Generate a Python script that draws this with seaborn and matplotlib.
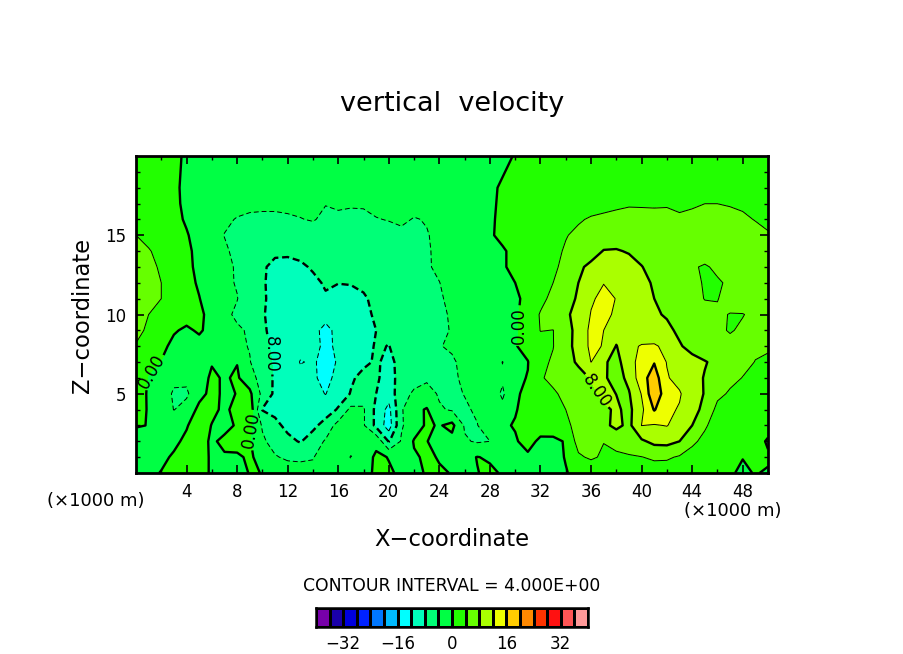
import matplotlib
matplotlib.use("Agg")
import matplotlib.pyplot as plt
from matplotlib.colors import BoundaryNorm, ListedColormap
import numpy as np
import seaborn as sns

# grid of the field, x in km every 1, z in km
x_km = list(range(51))
z_km = [0, 1, 2, 3, 4, 5, 6, 7, 8, 9, 10, 11, 12, 13, 14, 15, 16, 17, 18, 20]

# vertical velocity, one list per height
w_z00 = [-1, -0.5, 0.1, 0.7, 1, 0.6, -0.2, -0.4, -1.5, 0.2,
         -0.05, -1, -2, -2.6, -3, -2, -1.2, -1, -0.8, 0.4,
         0.3, -0.4, -0.6, 0.2, 0.3, -0.1, -0.6, -0.1, 0.6, -0.3,
         -0.6, -0.7, -0.8, -0.7, -0.1, 0.5, 1, 1.4, 1.6, 1.8,
         2, 2, 2, 1.8, 1.6, 1.2, 0.8, 0.2, -0.3, 0.1, -0.2]
w_z01 = [-1.4, -1, -0.5, 0.3, 1, 0.6, -0.2, -0.3, -0.4, 0.4,
         -1, -3.7, -4.6, -4.6, -4.2, -2.2, -1.6, -4.2, -1.5, 0.5,
         -0.1, -1.2, -0.4, 0.5, -0.2, -0.8, -0.9, 0.1, -0.4, -0.6,
         -0.6, -0.5, -0.7, -0.6, 0.1, 3.4, 4.6, 3.4, 3.4, 3.6,
         3.9, 4.6, 4.5, 3.6, 2.8, 2.2, 1.6, 0.7, 0.05, 0.5, 0.3]
w_z02 = [-2, -1.4, -1, -0.5, 0.5, 1, -0.4, 0.6, 1, 0.3,
         -3.4, -5.4, -7, -8.3, -6, -3.6, -2, -2.2, -1, -0.8,
         -8.3, -3.6, 0.3, 0.1, -1.2, -1.2, -3.6, -4.4, -4, -1,
         -0.3, 1, -0.6, -0.9, 0.3, 5.5, 5, 4.1, 5, 6,
         7.4, 9, 9.2, 8, 4.6, 3.2, 2.6, 2, 1.5, 1, -0.3]
w_z03 = [0.3, -0.1, -1.4, -1.6, -0.2, 1.4, -0.1, -0.8, 0.3, 0.6,
         -4.4, -7, -9, -9.4, -9, -6.4, -2.6, -2.2, -3.6, -9,
         -14, -4.4, -1.8, 0.5, -0.3, 1, -4.4, -4.1, -2, -0.4,
         0.2, 0.8, 1.4, 2.2, 3.4, 4.9, 5.4, 7, 9, 7,
         12.05, 11.7, 12.15, 10.4, 8, 4.4, 2.6, 1.9, 1.6, 1.4, 1]
w_z04 = [1, -0.2, -1.6, -4.1, -2.6, 1, 0.6, -0.5, 0.8, 2.5,
         -8.2, -9, -9.8, -10.2, -10.6, -10, -7.6, -3, -3.6, -9,
         -13.2, -4.4, -1, 0.3, -3.6, -4.4, -4.4, -3.6, -2, -3,
         -0.2, 1, 2, 3, 4, 5, 6, 7.2, 8.6, 7,
         11.2, 16.3, 13, 11.6, 8.8, 7.4, 2.8, 2.2, 2, 1.8, 1.8]
w_z05 = [1.3, -0.3, -1.6, -4.6, -4.6, -1.2, 1, -0.6, 0.1, 0.8,
         -5, -8.8, -9.6, -10.6, -11, -12.1, -10, -7.8, -5.5, -8,
         -10.2, -5.5, -3.4, -2.6, -4.4, -4.6, -3.9, -2.4, -1.8, -4.6,
         -0.5, 0.8, 2, 3.4, 5, 6, 7, 9, 7.95, 7.7,
         12.2, 19, 13.6, 12.5, 8.8, 7.9, 5, 3.5, 2.8, 2.4, 2.4]
w_z06 = [1.5, -0.2, -1.5, -3, -3.2, -1.4, 0.5, -0.3, 0.4, -2,
         -6, -8.5, -10, -11, -11.6, -12.8, -11.2, -8.5, -7, -7.5,
         -9.4, -6.6, -5.4, -4.6, -4.6, -4.5, -3.5, -2.4, -2, -3.4,
         -0.5, 0.1, 3.6, 5, 6, 7, 8.2, 8.6, 6.4, 9,
         14.4, 18, 12.4, 10.4, 9.2, 7.8, 6.4, 5, 3.9, 3.2, 2.8]
w_z07 = [1.6, 0.8, -0.1, -1.2, -2, -1.6, -0.2, -0.7, -0.1, -3.8,
         -6.8, -8.4, -10, -12.15, -11.7, -12.8, -11.8, -10.4, -8.7, -7.6,
         -8.8, -7, -6.2, -5.6, -5, -4.6, -2.8, -2, -1.6, -4.1,
         -1, -0.1, 3.2, 4.4, 7, 8.4, 12.05, 8.6, 6.6, 10.6,
         13.4, 15.8, 11.8, 10, 9, 8.2, 7.2, 6, 5, 3.9, 3.2]
w_z08 = [3.8, 2.2, 0.8, -0.8, -1.2, -1.1, -1.2, -1.8, -3.2, -4.2,
         -6.8, -9, -10.4, -11, -11.3, -12.5, -11.6, -10.6, -9.6, -7.6,
         -8.1, -6.4, -5.6, -5, -4.2, -3.4, -2.4, -1.8, -1.2, -0.8,
         -0.2, 1, 2.6, 3.9, 6.5, 9.5, 12.8, 11.8, 7.8, 11.4,
         12.2, 12.4, 11.2, 8.3, 7, 6, 5.2, 4.8, 4.6, 4.6, 4.6]
w_z09 = [4.8, 3.5, 2, 0.3, -0.5, 0.4, -1, -2.6, -3.5, -4.4,
         -7.4, -9.2, -10.6, -11.2, -11.6, -12.4, -11.6, -11, -9.6, -8,
         -7.4, -7, -6.5, -6, -5, -3.7, -2.6, -1.8, -1.2, -0.7,
         -0.5, 1.4, 4.1, 3.95, 6.2, 9.6, 12.8, 12, 10, 10,
         10.4, 9.8, 8.7, 7.4, 6.4, 5.4, 4.5, 3.8, 4.4, 5, 5.4]
w_z10 = [5.5, 4, 3, 2, 1.2, 0.5, -0.8, -3.2, -4.6, -6.2,
         -7.6, -9.6, -11, -11.4, -11.3, -11.5, -11, -10.6, -8.7, -7.6,
         -7, -6.4, -5.8, -5.4, -4.7, -3.6, -2.6, -1.8, -1.2, -0.7,
         -0.6, 1.6, 4.3, 5.6, 7.6, 8.8, 12.2, 12.8, 11.5, 10.6,
         9.6, 8.4, 7.7, 6.6, 5.6, 5, 4.4, 3.9, 3.9, 4.6, 5.4]
w_z11 = [6, 5.5, 4, 2.8, 1.6, 0.1, -1.6, -3, -3.9, -5.8,
         -7.4, -9.4, -10.4, -10.6, -10, -8.4, -8.8, -9.2, -8.5, -7,
         -6.4, -6, -5.4, -5, -4.4, -3.2, -2.4, -1.6, -1, -0.5,
         -0.6, 0.9, 3, 5, 6.8, 8.4, 11.5, 13, 11.9, 10.6,
         9.2, 8, 7, 6, 5, 3.9, 3.9, 5, 5.6, 5.8, 5.6]
w_z12 = [6, 5, 4, 2.6, 1, -0.4, -2, -3.4, -4.2, -6.4,
         -7.6, -9.2, -9.8, -9.6, -8.8, -7.6, -7.95, -7.8, -7.2, -6.8,
         -6.2, -5.6, -5, -4.4, -4.05, -3, -2.4, -1.8, -1.1, -0.4,
         0, 1, 2.2, 4, 5.5, 8, 10, 11.9, 11.5, 10.8,
         8.7, 7.7, 6.8, 5.8, 4.6, 3.8, 3.7, 4.4, 5, 5.4, 5.4]
w_z13 = [5.6, 4.8, 3.6, 2.2, 0.5, -0.5, -2, -3.3, -4.3, -6.2,
         -7.6, -8.8, -9, -8.6, -7.6, -7.4, -7.2, -7, -6.8, -6.4,
         -6, -5.6, -5, -4.3, -3.5, -3, -2.4, -1.8, -1, -0.3,
         0.7, 1.6, 2.6, 3.6, 4.6, 7.2, 9, 9.8, 10, 9.4,
         8.1, 7, 6.4, 5.6, 4.3, 3.7, 4.5, 5, 5.4, 5.6, 5]
w_z14 = [5, 4.2, 3.2, 2, 0.5, -0.7, -2.4, -3.4, -5, -6,
         -7, -7.4, -7.4, -7, -6.6, -6.6, -6.6, -6.4, -6.2, -6,
         -5.6, -5.2, -4.9, -4.3, -3.4, -2.8, -2.2, -1.6, -0.8, -0.3,
         0.7, 1.6, 2.6, 3.5, 4.2, 5, 6.2, 8.2, 8.3, 7.7,
         7, 6.4, 6, 5.6, 5.4, 5.4, 5.6, 5.8, 5.6, 5.2, 4.6]
w_z15 = [4, 3.2, 2.4, 1.4, 0.2, -1, -2.6, -4.1, -4.9, -5.4,
         -5.8, -6, -6, -5.6, -5.4, -5.6, -5.6, -5.6, -5.4, -5.2,
         -4.8, -4.4, -4.6, -4.1, -3.6, -3, -2.4, -1.6, -0.3, 0.6,
         1.2, 2, 2.8, 3.4, 3.9, 4.4, 5, 5.6, 6, 6,
         5.8, 5.6, 5.4, 5.2, 5.2, 5.4, 5.6, 5.6, 5.2, 4.8, 4.2]
w_z16 = [2.4, 2.2, 1.6, 0.7, -0.3, -1.5, -2.5, -3.4, -4.2, -4.6,
         -4.7, -4.7, -4.4, -4.1, -3.8, -4.6, -4.4, -4.5, -4.4, -4.1,
         -3.9, -3.7, -4.1, -3.9, -3.4, -2.8, -2.2, -1.6, -0.5, 0.75,
         1.4, 2, 2.6, 3, 3.4, 3.8, 4.2, 4.4, 4.6, 4.7,
         4.6, 4.5, 4.6, 4.3, 4.6, 4.9, 4.9, 4.8, 4.4, 3.9, 3.5]
w_z17 = [2.2, 2, 1.4, 0.5, -0.5, -1.2, -1.8, -2.4, -2.9, -3.2,
         -3.3, -3.3, -3.3, -3.3, -3.3, -3.9, -3.7, -3.8, -3.8, -3.4,
         -3.2, -3.2, -3.4, -3.3, -2.9, -2.4, -2, -1.5, -0.5, 0.5,
         1, 1.5, 2, 2.4, 2.7, 3, 3.2, 3.4, 3.6, 3.8,
         3.8, 3.8, 3.8, 3.6, 3.7, 3.99, 3.99, 3.8, 3.6, 3.3, 3]
w_z18 = [2, 1.8, 1.2, 0.4, -0.5, -1, -1.5, -1.8, -2, -2.2,
         -2.3, -2.4, -2.5, -2.5, -2.6, -2.7, -2.8, -2.8, -2.8, -2.7,
         -2.6, -2.6, -2.6, -2.5, -2.3, -2, -1.8, -1.5, -0.6, 0.4,
         0.8, 1.2, 1.5, 1.8, 2, 2.2, 2.4, 2.6, 2.8, 2.9,
         3, 3, 3, 3, 3, 3, 3, 2.9, 2.8, 2.6, 2.4]
w_z20 = [1.5, 1.3, 1, 0.6, -0.4, -0.8, -1, -1.2, -1.3, -1.4,
         -1.5, -1.5, -1.6, -1.6, -1.6, -1.6, -1.5, -1.5, -1.5, -1.5,
         -1.5, -1.5, -1.4, -1.4, -1.3, -1.2, -1.2, -1, -1, -0.8,
         0.2, 0.5, 0.8, 1, 1.2, 1.3, 1.4, 1.5, 1.5, 1.5,
         1.5, 1.5, 1.5, 1.5, 1.5, 1.5, 1.5, 1.4, 1.4, 1.3, 1.3]

x_ticks = [4, 8, 12, 16, 20, 24, 28, 32, 36, 40, 44, 48]
z_ticks = [5, 10, 15]
bar_ticks = [-32, -16, 0, 16, 32]
levels = np.arange(-40, 41, 4)
thick_levels = [-8, 0, 8, 16]
thin_levels = [-12, -4, 4, 12]
label_levels = [-8, 0, 8]
# where the contour labels sit (x, z) and how they are turned
label_spots = [(1.4, 6.3), (9.2, 2.7), (10.7, 7.5), (30.3, 9.3), (36.5, 5.2)]
label_turns = [60, 80, -90, 90, -55]

cell_colors = ["#7700aa", "#1a00aa", "#0000dd", "#0022ff", "#0077ff",
               "#00bbff", "#00ffff", "#00ffbb", "#00ff77", "#00ff44",
               "#22ff00", "#66ff00", "#aaff00", "#eeff00", "#ffcc00",
               "#ff8800", "#ff3300", "#ff1111", "#ff5555", "#ff9999"]

W, H = 904, 654


def box(left, top, right, bottom):
    return [left / W, 1 - bottom / H, (right - left) / W, (bottom - top) / H]


def put_text(px, py, s, **kw):
    fig.text(px / W, 1 - py / H, s, ha=kw.pop("ha", "center"), va="center", **kw)


sns.set_style("white")
plt.rcParams["font.family"] = ["DejaVu Sans"]
plt.rcParams.update({"text.color": "black", "xtick.color": "black", "ytick.color": "black",
                     "axes.axisbelow": False})

field = np.array([w_z00, w_z01, w_z02, w_z03, w_z04, w_z05, w_z06, w_z07, w_z08, w_z09,
                  w_z10, w_z11, w_z12, w_z13, w_z14, w_z15, w_z16, w_z17, w_z18, w_z20])
cmap = ListedColormap(cell_colors)
norm = BoundaryNorm(levels, cmap.N)

fig = plt.figure(figsize=(W / 100, H / 100), dpi=100)
ax = fig.add_axes(box(136, 156, 768, 473))

ax.contourf(x_km, z_km, field, levels=levels, cmap=cmap, norm=norm)
ax.contour(x_km, z_km, field, levels=thin_levels, colors="black", linewidths=0.7,
           linestyles=[(0, (5, 3)), (0, (5, 3)), "solid", "solid"])
cs = ax.contour(x_km, z_km, field, levels=thick_levels, colors="black", linewidths=1.7,
                linestyles=[(0, (3, 1.6)), "solid", "solid", "solid"])
texts = ax.clabel(cs, levels=label_levels, fmt=lambda v: f"{abs(v):.2f}", fontsize=12,
                  colors="black", manual=label_spots, inline=True, inline_spacing=2)
for t, turn in zip(texts, label_turns):
    t.set_rotation(turn)

ax.set_xlim(0, 50)
ax.set_ylim(0, 20)
ax.set_xticks(x_ticks)
ax.set_yticks(z_ticks)
ax.set_xticks(np.arange(2, 50, 4), minor=True)
ax.set_yticks(np.arange(1, 20), minor=True)
ax.tick_params(axis="both", which="major", direction="in", length=6, width=1.2,
               top=True, right=True, bottom=True, left=True, labelsize=12, pad=7)
ax.tick_params(axis="both", which="minor", direction="in", length=3, width=1,
               top=True, right=True, bottom=True, left=True)
for sp in ax.spines.values():
    sp.set_linewidth(2)
    sp.set_color("black")

put_text(452, 104, "vertical  velocity", fontsize=19.5)
put_text(96, 501, "(\u00d71000 m)", fontsize=13)
put_text(733, 511, "(\u00d71000 m)", fontsize=13)
put_text(452, 539, "X\u2212coordinate", fontsize=16.3)
put_text(83, 315, "Z\u2212coordinate", fontsize=16.3, rotation=90)
put_text(452, 586, "CONTOUR INTERVAL = 4.000E+00", fontsize=12.4)

# colour key as a one row heatmap
cax = fig.add_axes(box(316, 608, 588, 627))
mids = (levels[:-1] + levels[1:]) / 2
sns.heatmap(mids[np.newaxis, :], ax=cax, cmap=cmap, norm=norm, cbar=False,
            linewidths=1, linecolor="black", xticklabels=False, yticklabels=False)
cax.set_xticks([(v - levels[0]) / 4 for v in bar_ticks])
cax.set_xticklabels([str(v).replace("-", "\u2212") for v in bar_ticks], fontsize=12, color="black")
cax.tick_params(axis="x", length=0, pad=6)
for sp in cax.spines.values():
    sp.set_visible(True)
    sp.set_linewidth(1.8)
    sp.set_color("black")

fig.savefig("out.png", dpi=100)
